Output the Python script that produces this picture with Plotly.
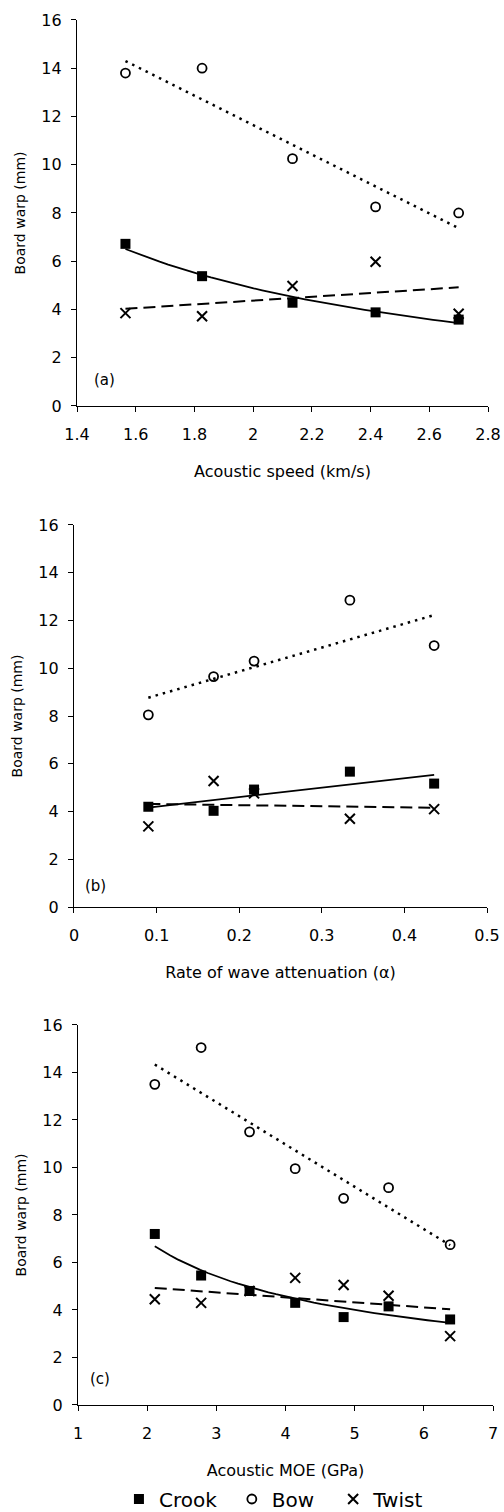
import numpy as np
import plotly.graph_objects as go

# ---------------- data ----------------
# Panel (a): acoustic speed (km/s)
a_speed = [1.565, 1.826, 2.134, 2.417, 2.70]
a_crook = [6.72, 5.38, 4.28, 3.88, 3.58]
a_bow = [13.8, 14.0, 10.25, 8.25, 8.0]
a_twist = [3.85, 3.72, 4.97, 5.98, 3.82]

# Panel (b): rate of wave attenuation (alpha)
b_atten = [0.090, 0.169, 0.218, 0.334, 0.436]
b_crook = [4.20, 4.03, 4.92, 5.67, 5.17]
b_bow = [8.05, 9.65, 10.30, 12.85, 10.95]
b_twist = [3.38, 5.28, 4.76, 3.70, 4.10]

# Panel (c): acoustic MOE (GPa)
c_moe = [2.11, 2.78, 3.48, 4.14, 4.84, 5.49, 6.38]
c_crook = [7.20, 5.45, 4.80, 4.30, 3.70, 4.15, 3.60]
c_bow = [13.50, 15.05, 11.50, 9.95, 8.70, 9.15, 6.75]
c_twist = [4.45, 4.30, 4.80, 5.35, 5.05, 4.60, 2.90]

series_names = ["Crook", "Bow", "Twist"]
panel_labels = ["(a)", "(b)", "(c)"]
x_titles = ["Acoustic speed (km/s)", "Rate of wave attenuation (\u03b1)", "Acoustic MOE (GPa)"]
y_title = "Board warp (mm)"

# trend line type per panel for each series (Crook, Bow, Twist)
trend_kinds = [["power", "linear", "linear"],
               ["linear", "linear", "linear"],
               ["power", "linear", "linear"]]

panels = [
    (a_speed, [a_crook, a_bow, a_twist]),
    (b_atten, [b_crook, b_bow, b_twist]),
    (c_moe, [c_crook, c_bow, c_twist]),
]


def trend(x, y, kind, n=40):
    x = np.asarray(x, float)
    y = np.asarray(y, float)
    xs = np.linspace(x.min(), x.max(), n)
    if kind == "power":
        b, a = np.polyfit(np.log(x), np.log(y), 1)
        return xs, np.exp(a) * xs ** b
    m, c = np.polyfit(x, y, 1)
    return xs, m * xs + c


FONT = "DejaVu Sans"
marker_styles = [
    dict(symbol="square", size=10, color="black"),
    dict(symbol="circle-open", size=9, color="black", line=dict(width=1.8, color="black")),
    dict(symbol="x-thin-open", size=10, color="black", line=dict(width=2, color="black")),
]
line_styles = [
    dict(color="black", width=1.8, dash="solid"),
    dict(color="black", width=2.5, dash="2.5px,5px"),
    dict(color="black", width=2, dash="12px,6px"),
]
legend_ids = ["legend", "legend2", "legend3"]

fig = go.Figure()

for p, (xv, ys) in enumerate(panels):
    xa = "x" if p == 0 else f"x{p+1}"
    ya = "y" if p == 0 else f"y{p+1}"
    for s, yv in enumerate(ys):
        tx, ty = trend(xv, yv, trend_kinds[p][s])
        fig.add_trace(go.Scatter(x=tx, y=ty, mode="lines", line=line_styles[s],
                                 showlegend=False, hoverinfo="skip", xaxis=xa, yaxis=ya))
    for s, yv in enumerate(ys):
        fig.add_trace(go.Scatter(x=xv, y=yv, mode="markers", name=series_names[s],
                                 marker=marker_styles[s], showlegend=(p == 0),
                                 legend=legend_ids[s], xaxis=xa, yaxis=ya))

# layout geometry (fractions of the 504x1512 page)
x_domains = [[0.1528, 0.9683], [0.1468, 0.9663], [0.1548, 0.9782]]
y_domains = [[0.7315, 0.9868], [0.4001, 0.6528], [0.0708, 0.3221]]
x_ranges = [[1.4, 2.8], [0, 0.5], [1, 7]]
x_dticks = [0.2, 0.1, 1]

axis_common = dict(showline=True, linecolor="black", linewidth=1.3, ticks="outside",
                   ticklen=5, tickwidth=1.2, tickcolor="black", showgrid=False,
                   zeroline=False, automargin=False,
                   tickfont=dict(family=FONT, size=16, color="black"))

layout = dict(width=504, height=1512, margin=dict(l=0, r=0, t=0, b=0, autoexpand=False),
              paper_bgcolor="white", plot_bgcolor="white",
              font=dict(family=FONT, color="black"))
for p in range(3):
    xk = "xaxis" if p == 0 else f"xaxis{p+1}"
    yk = "yaxis" if p == 0 else f"yaxis{p+1}"
    ya = "y" if p == 0 else f"y{p+1}"
    xa = "x" if p == 0 else f"x{p+1}"
    layout[xk] = dict(axis_common, domain=x_domains[p], range=x_ranges[p], dtick=x_dticks[p],
                      tick0=x_ranges[p][0], anchor=ya, ticklabelstandoff=9,
                      title=dict(text=x_titles[p], font=dict(family=FONT, size=16), standoff=22))
    layout[yk] = dict(axis_common, domain=y_domains[p], range=[0, 16], dtick=2, tick0=0,
                      anchor=xa, ticklabelstandoff=6,
                      title=dict(text=y_title, font=dict(family=FONT, size=14), standoff=12))

legend_x = [0.236, 0.460, 0.661]
for i, lid in enumerate(legend_ids):
    layout[lid] = dict(x=legend_x[i], y=0.0086, xanchor="left", yanchor="middle",
                       orientation="h", bgcolor="rgba(0,0,0,0)", borderwidth=0,
                       itemwidth=30, font=dict(family=FONT, size=20, color="black"))

fig.update_layout(**layout)

label_pos = [(0.037, 0.067), (0.022, 0.055), (0.024, 0.068)]
for p in range(3):
    xa = "x" if p == 0 else f"x{p+1}"
    ya = "y" if p == 0 else f"y{p+1}"
    fig.add_annotation(text=panel_labels[p], xref=f"{xa} domain", yref=f"{ya} domain",
                       x=label_pos[p][0], y=label_pos[p][1], xanchor="left", yanchor="middle",
                       showarrow=False, font=dict(family=FONT, size=15, color="black"))

fig.write_html("out.html", config={"displayModeBar": False},
               post_script="document.body.style.margin='0';document.body.style.overflow='hidden';")
